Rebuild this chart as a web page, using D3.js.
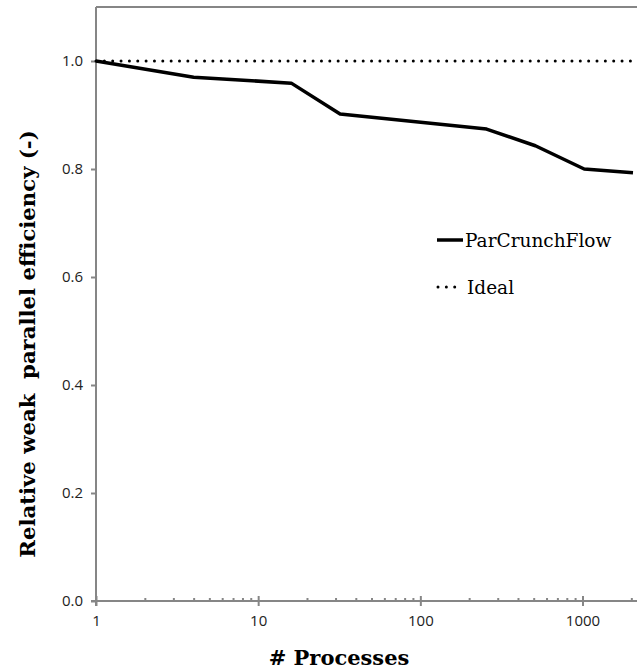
<!DOCTYPE html>
<html>
<head>
<meta charset="utf-8">
<script src="https://cdn.jsdelivr.net/npm/d3@7"></script>
<style>
  body { margin: 0; background: #fff; }
</style>
</head>
<body>
<script>
'use strict';

// processes (x) and relative weak parallel efficiency (y)
const processes = [1, 4, 16, 32, 256, 512, 1024, 2048];
const efficiency = [1.0, 0.970, 0.959, 0.902, 0.874, 0.843, 0.800, 0.793];
const idealX = [1, 2048];
const idealY = [1.0, 1.0];
const yTicks = [0, 0.2, 0.4, 0.6, 0.8, 1.0];
const xTicks = [1, 10, 100, 1000];
const seriesNames = ["ParCrunchFlow", "Ideal"];

const width = 637, height = 670;
const margin = { top: 7, right: 4, bottom: 69, left: 96 };

const svg = d3.select("body").append("svg")
    .attr("width", width)
    .attr("height", height);

// scales
const x = d3.scaleLog()
    .domain([1, 2048])
    .range([margin.left, 633]);
const y = d3.scaleLinear()
    .domain([0, 1.1])
    .range([height - margin.bottom, margin.top]);

const axisColor = "#868686";
const tickFont = "'Open Sans', sans-serif";
const titleFont = "'DejaVu Serif', serif";

// frame: top line
svg.append("line")
    .attr("x1", margin.left).attr("x2", width)
    .attr("y1", y(1.1)).attr("y2", y(1.1))
    .attr("stroke", axisColor).attr("stroke-width", 2);

// y axis
const yAxis = svg.append("g")
    .attr("transform", "translate(" + margin.left + ",0)")
    .call(d3.axisLeft(y).tickValues(yTicks).tickFormat(d3.format(".1f")).tickSize(5).tickPadding(8));
yAxis.attr("font-family", tickFont).attr("font-size", 15);
yAxis.select(".domain").remove();
yAxis.append("line")
    .attr("x1", 0).attr("x2", 0)
    .attr("y1", y(1.1)).attr("y2", y(0) + 5)
    .attr("stroke", axisColor).attr("stroke-width", 2);

// x axis: minor ticks
const minor = [];
for (let dec = 1; dec <= 1000; dec *= 10) {
    for (let m = 2; m <= 9; m++) {
        if (dec * m <= 2048) minor.push(dec * m);
    }
}
svg.append("g")
    .attr("transform", "translate(0," + y(0) + ")")
    .call(d3.axisTop(x).tickValues(minor).tickFormat("").tickSize(3).tickSizeOuter(0))
    .call(g => g.select(".domain").remove())
    .call(g => g.selectAll("line").attr("stroke", axisColor).attr("stroke-width", 2));

const xAxis = svg.append("g")
    .attr("transform", "translate(0," + y(0) + ")")
    .call(d3.axisBottom(x).tickValues(xTicks).tickFormat(d3.format("d")).tickSize(5).tickPadding(9));
xAxis.attr("font-family", tickFont).attr("font-size", 15);
xAxis.select(".domain").remove();
xAxis.selectAll(".tick line").attr("y1", -5);
xAxis.append("line")
    .attr("x1", margin.left - 5).attr("x2", width)
    .attr("y1", 0).attr("y2", 0)
    .attr("stroke", axisColor).attr("stroke-width", 2);

svg.selectAll(".tick line").attr("stroke", axisColor).attr("stroke-width", 2);
svg.selectAll(".tick text").attr("fill", "#222");

// lines
const line = d3.line()
    .x(d => x(d[0]))
    .y(d => y(d[1]));

svg.append("path")
    .datum(idealX.map((v, i) => [v, idealY[i]]))
    .attr("fill", "none")
    .attr("stroke", "#000")
    .attr("stroke-width", 3)
    .attr("stroke-linecap", "round")
    .attr("stroke-dasharray", "0 8.35")
    .attr("d", line);

svg.append("path")
    .datum(processes.map((v, i) => [v, efficiency[i]]))
    .attr("fill", "none")
    .attr("stroke", "#000")
    .attr("stroke-width", 3.5)
    .attr("stroke-linejoin", "round")
    .attr("d", line);

// legend
const lg = svg.append("g")
    .attr("font-family", titleFont)
    .attr("font-size", 18.5);
lg.append("line")
    .attr("x1", 437).attr("x2", 463)
    .attr("y1", 240).attr("y2", 240)
    .attr("stroke", "#000").attr("stroke-width", 3.5);
lg.append("text")
    .attr("x", 465).attr("y", 247)
    .text(seriesNames[0]);
lg.append("line")
    .attr("x1", 438).attr("x2", 456)
    .attr("y1", 287).attr("y2", 287)
    .attr("stroke", "#000").attr("stroke-width", 3)
    .attr("stroke-linecap", "round")
    .attr("stroke-dasharray", "0 8.35");
lg.append("text")
    .attr("x", 467).attr("y", 294)
    .text(seriesNames[1]);

// axis titles
svg.append("text")
    .attr("transform", "translate(35,344)rotate(-90)")
    .attr("text-anchor", "middle")
    .attr("font-family", titleFont)
    .attr("font-weight", "bold")
    .attr("font-size", 21.2)
    .text("Relative weak\u00a0 parallel efficiency (-)");

svg.append("text")
    .attr("x", 339).attr("y", 665)
    .attr("text-anchor", "middle")
    .attr("font-family", titleFont)
    .attr("font-weight", "bold")
    .attr("font-size", 21)
    .text("# Processes");
</script>
</body>
</html>
